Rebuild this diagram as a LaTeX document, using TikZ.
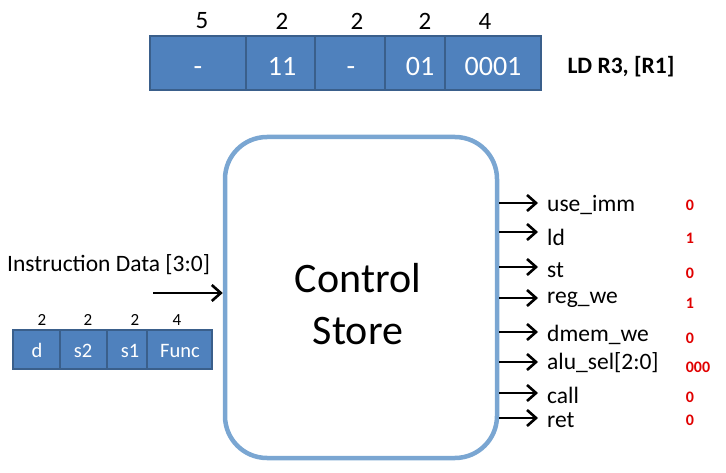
\documentclass[tikz,border=0pt]{standalone}
\usepackage{fontspec}
\setmainfont{Carlito}
\usetikzlibrary{arrows.meta}
\definecolor{fblue}{HTML}{4F81BD}
\definecolor{bblue}{HTML}{3A5F8B}
\definecolor{csblue}{HTML}{7AA6D2}
\definecolor{valred}{HTML}{E00000}
\tikzset{
  fieldbig/.style={draw=bblue, line width=1.6pt, fill=fblue, inner sep=0pt, minimum height=54pt},
  fieldsmall/.style={draw=bblue, line width=1.4pt, fill=fblue, inner sep=0pt, minimum height=39pt},
  bigtxt/.style={text=white, inner sep=0pt, anchor=base, font=\fontsize{28}{32}\selectfont},
  smalltxt/.style={text=white, inner sep=0pt, anchor=base, font=\fontsize{20.5}{24}\selectfont},
  widthbig/.style={inner sep=0pt, font=\fontsize{25}{28}\selectfont},
  widthsmall/.style={inner sep=0pt, font=\fontsize{17}{20}\selectfont},
  lbl/.style={anchor=west, inner sep=0pt, font=\fontsize{23.5}{28}\selectfont},
  val/.style={inner sep=0pt, text=valred, font=\bfseries\fontsize{16}{18}\selectfont},
  arr/.style={draw=black, line width=2.6pt, -{Straight Barb[length=9pt,width=16pt,line width=2.6pt]}},
  store/.style={draw=csblue, line width=4.5pt, rounded corners=42pt, minimum width=272pt, minimum height=321pt}
}
\begin{document}
\begin{tikzpicture}[x=1pt,y=-1pt]
\useasboundingbox (0,0) rectangle (726,473);
% top instruction fields
\node[fieldbig, minimum width=96pt] (t1) at (198,63) {};
\node[fieldbig, minimum width=69pt] (t2) at (280.5,63) {};
\node[fieldbig, minimum width=70pt] (t3) at (350,63) {};
\node[fieldbig, minimum width=60pt] (t4) at (415,63) {};
\node[fieldbig, minimum width=96pt] (t5) at (493,63) {};
\node[bigtxt] (tx1) at (198,76) {-};
\node[bigtxt] (tx2) at (282,76) {11};
\node[bigtxt] (tx3) at (351,76) {-};
\node[bigtxt] (tx4) at (420,76) {01};
\node[bigtxt] (tx5) at (493,76) {0001};
\node[widthbig] (w1) at (202,21) {5};
\node[widthbig] (w2) at (282,21) {2};
\node[widthbig] (w3) at (357,21) {2};
\node[widthbig] (w4) at (425,21) {2};
\node[widthbig] (w5) at (485,21) {4};
\node[inner sep=0pt, font=\bfseries\fontsize{23.5}{28}\selectfont] (ld) at (621,67) {LD R3, [R1]};
% control store
\node[store] (cs) at (361,297.5) {};
\node[align=center, inner sep=0pt, font=\fontsize{42}{52}\selectfont] (cslabel) at (358,304) {Control\\Store};
% input
\node[inner sep=0pt, anchor=west, font=\fontsize{23.5}{28}\selectfont] (idata) at (7,265) {Instruction Data [3:0]};
\coordinate (in) at (153,293);
\draw[arr] (in) -- (cs.west |- in);
% small fields
\node[fieldsmall, minimum width=47pt] (s1) at (36.5,349.5) {};
\node[fieldsmall, minimum width=47pt] (s2) at (83.5,349.5) {};
\node[fieldsmall, minimum width=40pt] (s3) at (127,349.5) {};
\node[fieldsmall, minimum width=65pt] (s4) at (179.5,349.5) {};
\node[smalltxt] (sx1) at (37,357) {d};
\node[smalltxt] (sx2) at (83,357) {s2};
\node[smalltxt] (sx3) at (130,357) {s1};
\node[smalltxt] (sx4) at (180,357) {Func};
\node[widthsmall] (sw1) at (42,320) {2};
\node[widthsmall] (sw2) at (88,320) {2};
\node[widthsmall] (sw3) at (135,320) {2};
\node[widthsmall] (sw4) at (177,320) {4};
% outputs
\foreach \n/\y/\ly/\t/\v/\vx/\vy in {o1/203/205/use\_imm/0/690/205, o2/232/237/ld/1/690/238, o3/267/270/st/0/690/273, o4/298/300/reg\_we/1/690/303, o5/332/335/dmem\_we/0/690/338, o6/362/363/alu\_sel[2:0]/000/698/367, o7/393/395/call/0/690/397, o8/418/420/ret/0/690/420}{
  \coordinate (\n) at (538,\y);
  \draw[arr] (cs.east |- \n) -- (\n);
  \node[lbl] (\n l) at (547,\ly) {\t};
  \node[val] (\n v) at (\vx,\vy) {\v};
}
\end{tikzpicture}
\end{document}
